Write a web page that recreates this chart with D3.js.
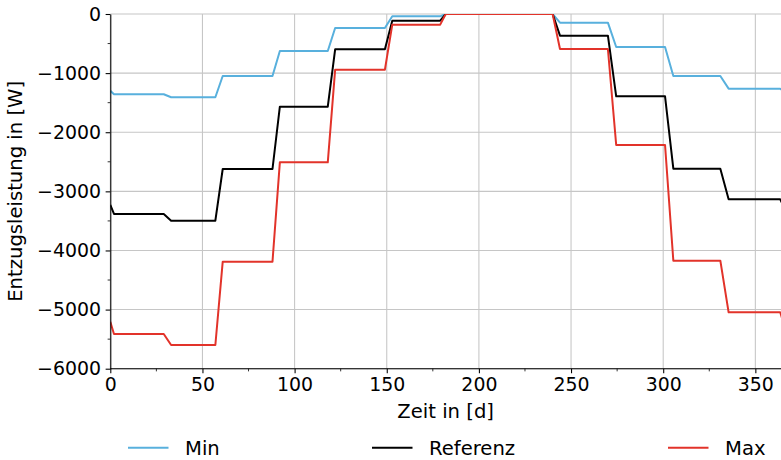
<!DOCTYPE html>
<html>
<head>
<meta charset="utf-8">
<script src="https://cdn.jsdelivr.net/npm/d3@7"></script>
<style>
  html, body { margin: 0; padding: 0; background: #fff; }
  svg { display: block; font-family: "DejaVu Sans", sans-serif; }
</style>
</head>
<body>
<svg id="chart" width="781" height="460"></svg>
<script>
// Day of year at each break in the monthly profile
const days = [0, 2, 29, 33, 57, 61, 88, 92, 118, 122, 149, 153, 179, 182,
              240, 244, 270, 274.5, 301, 305.5, 331, 335.5, 363.5, 365];
// Extraction power (W) per series at those days
const minW = [-1300, -1358, -1358, -1409, -1409, -1049, -1049, -626, -626, -237, -237, -39, -39, 0,
              0, -147, -147, -558, -558, -1049, -1049, -1263, -1263, -1300];
const refW = [-3230, -3383, -3383, -3496, -3496, -2622, -2622, -1568, -1568, -597, -597, -113, -113, 0,
              0, -367, -367, -1392, -1392, -2617, -2617, -3135, -3135, -3230];
const maxW = [-5205, -5413, -5413, -5599, -5599, -4190, -4190, -2509, -2509, -942, -942, -180, -180, 0,
              0, -592, -592, -2216, -2216, -4173, -4173, -5046, -5046, -5200];

const seriesNames = ["Min", "Referenz", "Max"];
const seriesColors = ["#58b0dd", "#000000", "#e2332a"];
const xTicks = [0, 50, 100, 150, 200, 250, 300, 350];
const xMinorTicks = [25, 75, 125, 175, 225, 275, 325];
const yTicks = [0, -1000, -2000, -3000, -4000, -5000, -6000];
const yMinorTicks = [-500, -1500, -2500, -3500, -4500, -5500];

const series = [minW, refW, maxW].map((vals, i) => ({
  name: seriesNames[i], color: seriesColors[i],
  points: days.map((d, j) => [d, vals[j]])
}));

const svg = d3.select("#chart");
const plotLeft = 110.3, plotTop = 14, plotBottom = 368.7, plotRight = 781;
const x = d3.scaleLinear().domain([0, 365]).range([plotLeft, plotLeft + 365 * 1.843]);
const y = d3.scaleLinear().domain([-6000, 0]).range([plotBottom, plotTop]);
const tickFont = "18.9px";
const labelFont = "19.6px";
const minus = s => String(s).replace("-", "\u2212");

// Grid
const grid = svg.append("g").attr("stroke", "#c6c6c6").attr("stroke-width", 1.07);
grid.selectAll(".gx").data(xTicks).enter().append("line")
  .attr("x1", d => x(d)).attr("x2", d => x(d)).attr("y1", plotTop).attr("y2", plotBottom);
grid.selectAll(".gy").data(yTicks).enter().append("line")
  .attr("x1", plotLeft).attr("x2", plotRight).attr("y1", d => y(d)).attr("y2", d => y(d));

// Clip to plot area
svg.append("clipPath").attr("id", "plotclip").append("rect")
  .attr("x", plotLeft).attr("y", plotTop).attr("width", plotRight - plotLeft).attr("height", plotBottom - plotTop);

const line = d3.line().x(d => x(d[0])).y(d => y(d[1]));
svg.append("g").attr("clip-path", "url(#plotclip)")
  .selectAll("path").data(series).enter().append("path")
  .attr("d", d => line(d.points))
  .attr("fill", "none")
  .attr("stroke", d => d.color)
  .attr("stroke-width", 2)
  .attr("stroke-linejoin", "round");

// Axes
const xAxis = svg.append("g").attr("transform", `translate(0,${plotBottom})`)
  .call(d3.axisBottom(x).tickValues(xTicks).tickSize(4.67).tickPadding(4.67).tickSizeOuter(0));
xAxis.selectAll(".minor").data(xMinorTicks).enter().append("line")
  .attr("x1", d => x(d)).attr("x2", d => x(d)).attr("y1", 0).attr("y2", 2.67)
  .attr("stroke", "#000").attr("stroke-width", 0.8);

const yAxis = svg.append("g").attr("transform", `translate(${plotLeft},0)`)
  .call(d3.axisLeft(y).tickValues(yTicks).tickFormat(d => minus(d)).tickSize(4.67).tickPadding(4.67).tickSizeOuter(0));
yAxis.selectAll(".minor").data(yMinorTicks).enter().append("line")
  .attr("x1", 0).attr("x2", -2.67).attr("y1", d => y(d)).attr("y2", d => y(d))
  .attr("stroke", "#000").attr("stroke-width", 0.8);

[xAxis, yAxis].forEach(a => {
  a.select(".domain").attr("stroke", "#000").attr("stroke-width", 1.07);
  a.selectAll(".tick line").attr("stroke", "#000").attr("stroke-width", 1.07);
  a.selectAll(".tick text").attr("font-size", tickFont).attr("font-family", "DejaVu Sans").attr("fill", "#000");
});
xAxis.select(".domain").attr("d", `M${plotLeft},0H${plotRight}`);

// Axis titles
svg.append("text").attr("x", (plotLeft + plotRight) / 2).attr("y", 418)
  .attr("text-anchor", "middle").attr("font-size", labelFont).text("Zeit in [d]");
svg.append("text")
  .attr("transform", `translate(22,${(plotTop + plotBottom) / 2}) rotate(-90)`)
  .attr("text-anchor", "middle").attr("font-size", labelFont).text("Entzugsleistung in [W]");

// Legend
const legendX = [128, 372, 668];
const lg = svg.append("g").selectAll("g").data(series).enter().append("g")
  .attr("transform", (d, i) => `translate(${legendX[i]},447.7)`);
lg.append("line").attr("x1", 0).attr("x2", 40.5).attr("y1", 0).attr("y2", 0)
  .attr("stroke", d => d.color).attr("stroke-width", 2);
lg.append("text").attr("x", 57).attr("y", 7).attr("font-size", labelFont).text(d => d.name);
</script>
</body>
</html>
